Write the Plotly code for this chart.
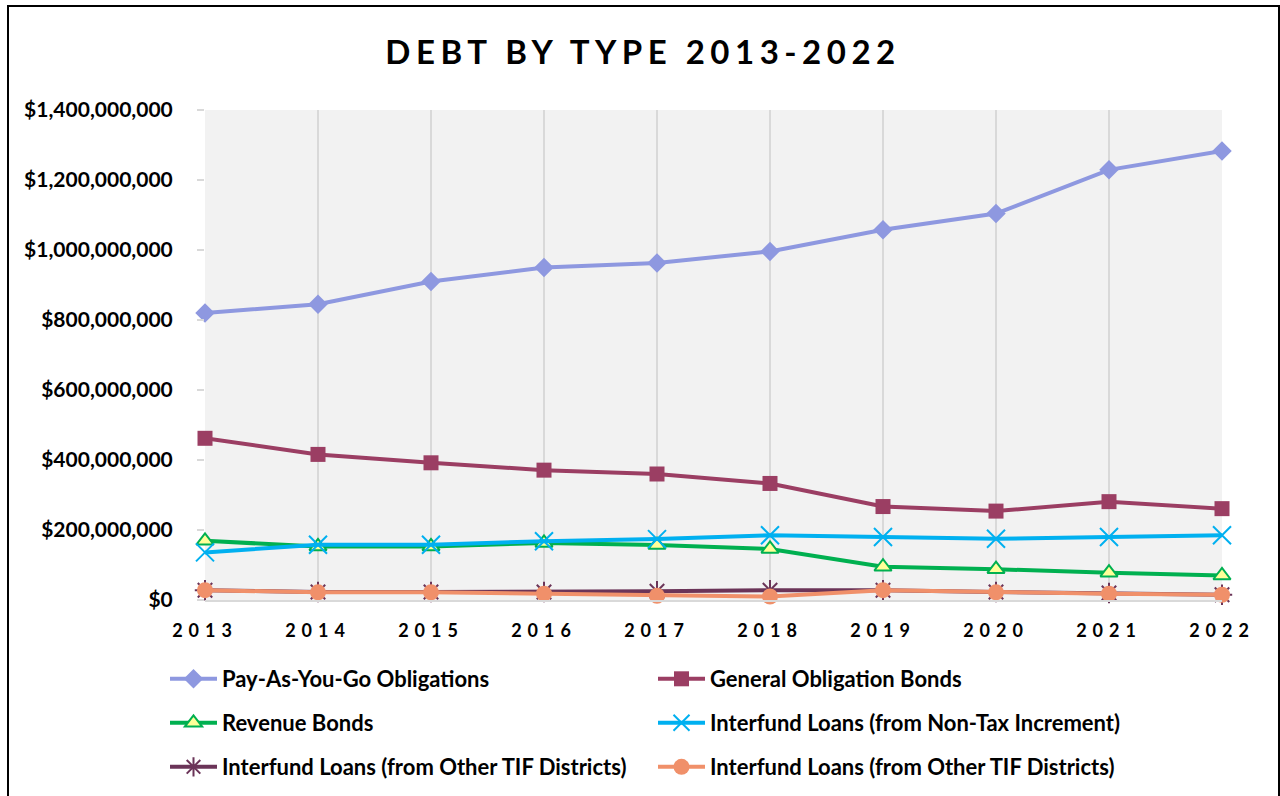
import plotly.graph_objects as go

years = [2013, 2014, 2015, 2016, 2017, 2018, 2019, 2020, 2021, 2022]
year_labels = ["2013", "2014", "2015", "2016", "2017", "2018", "2019", "2020", "2021", "2022"]

pay_go = [820e6, 845e6, 910e6, 950e6, 963e6, 996e6, 1058e6, 1104e6, 1229e6, 1283e6]
go_bonds = [462e6, 416e6, 392e6, 371e6, 360e6, 333e6, 267e6, 254e6, 281e6, 261e6]
revenue = [169e6, 153e6, 153e6, 163e6, 157e6, 146e6, 95e6, 88e6, 78e6, 70e6]
nontax = [136e6, 158e6, 158e6, 168e6, 174e6, 185e6, 180e6, 175e6, 180e6, 185e6]
other_tif_a = [28e6, 23e6, 23e6, 23e6, 25e6, 28e6, 28e6, 23e6, 20e6, 15e6]
other_tif_b = [28e6, 22e6, 22e6, 18e6, 12e6, 10e6, 28e6, 22e6, 18e6, 15e6]

y_ticks = [0, 200e6, 400e6, 600e6, 800e6, 1000e6, 1200e6, 1400e6]

series = [
    ("Pay-As-You-Go Obligations", pay_go, "#8E98E0", dict(symbol="diamond", size=15, color="#8E98E0"), "legend"),
    ("General Obligation Bonds", go_bonds, "#9B3E63", dict(symbol="square", size=15, color="#9B3E63"), "legend"),
    ("Revenue Bonds", revenue, "#00B050", dict(symbol="triangle-up", size=15, color="#FFFF99", line=dict(color="#00B050", width=2)), "legend2"),
    ("Interfund Loans (from Non-Tax Increment)", nontax, "#00B0F0", dict(symbol="x-thin-open", size=18, color="#00B0F0", line=dict(color="#00B0F0", width=2)), "legend2"),
    ("Interfund Loans (from Other TIF Districts)", other_tif_a, "#6B3458", dict(symbol="asterisk-open", size=17, color="#6B3458", line=dict(color="#6B3458", width=2)), "legend3"),
    ("Interfund Loans (from Other TIF Districts)", other_tif_b, "#F0906A", dict(symbol="circle", size=16, color="#F0906A"), "legend3"),
]

fig = go.Figure()
for name, vals, col, mk, lg in series:
    fig.add_trace(go.Scatter(x=years, y=vals, name=name, mode="lines+markers", legend=lg,
                             line=dict(color=col, width=4), marker=mk, cliponaxis=False))

FONT = "Lato"
L, R, T, B = 205, 58, 110, 196
W, H = 1280, 796
pw, ph = W - L - R, H - T - B

def px_x(x):
    return (x - L) / pw

def px_y(y):
    return (H - B - y) / ph

def legend_at(ycenter):
    return dict(orientation="h", x=px_x(165), xanchor="left", y=px_y(ycenter), yanchor="middle",
                entrywidth=426, entrywidthmode="pixels", traceorder="normal", itemwidth=47,
                font=dict(family=FONT, size=22, color="black", weight="bold"),
                bgcolor="rgba(0,0,0,0)")

fig.update_layout(
    width=W, height=H,
    margin=dict(l=L, r=R, t=T, b=B, autoexpand=False),
    paper_bgcolor="white",
    plot_bgcolor="#F2F2F2",
    font=dict(family=FONT, color="black", size=19, weight="bold"),
    title=dict(text='<span style="letter-spacing:5.5px"><b>DEBT BY TYPE 2013-2022</b></span>',
               x=643 / W, xanchor="center", y=1 - 52 / H, yanchor="middle",
               font=dict(family=FONT, size=33, color="black")),
    xaxis=dict(range=[2013, 2022], tickmode="array", tickvals=years,
               ticktext=['<span style="letter-spacing:6px">%s</span>' % t for t in year_labels],
               showgrid=True, gridcolor="#D9D9D9", gridwidth=2,
               showline=True, linecolor="#D9D9D9", linewidth=2, ticks="", zeroline=False,
               ticklabelstandoff=13,
               tickfont=dict(family=FONT, size=18, color="black", weight="bold")),
    yaxis=dict(range=[0, 1400e6], tickmode="array", tickvals=y_ticks,
               tickformat="$,.0f", showgrid=False, zeroline=False,
               ticks="outside", ticklen=7, tickcolor="#D9D9D9", tickwidth=2,
               tickfont=dict(family=FONT, size=21, color="black", weight="bold"), ticklabelstandoff=20),
    legend=legend_at(679),
    legend2=legend_at(723),
    legend3=legend_at(767),
    shapes=[dict(type="rect", xref="paper", yref="paper",
                 x0=px_x(8), x1=px_x(1279), y0=px_y(800), y1=px_y(6),
                 line=dict(color="black", width=2), fillcolor="rgba(0,0,0,0)", layer="below")],
    showlegend=True,
)

fig.write_html("out.html")
